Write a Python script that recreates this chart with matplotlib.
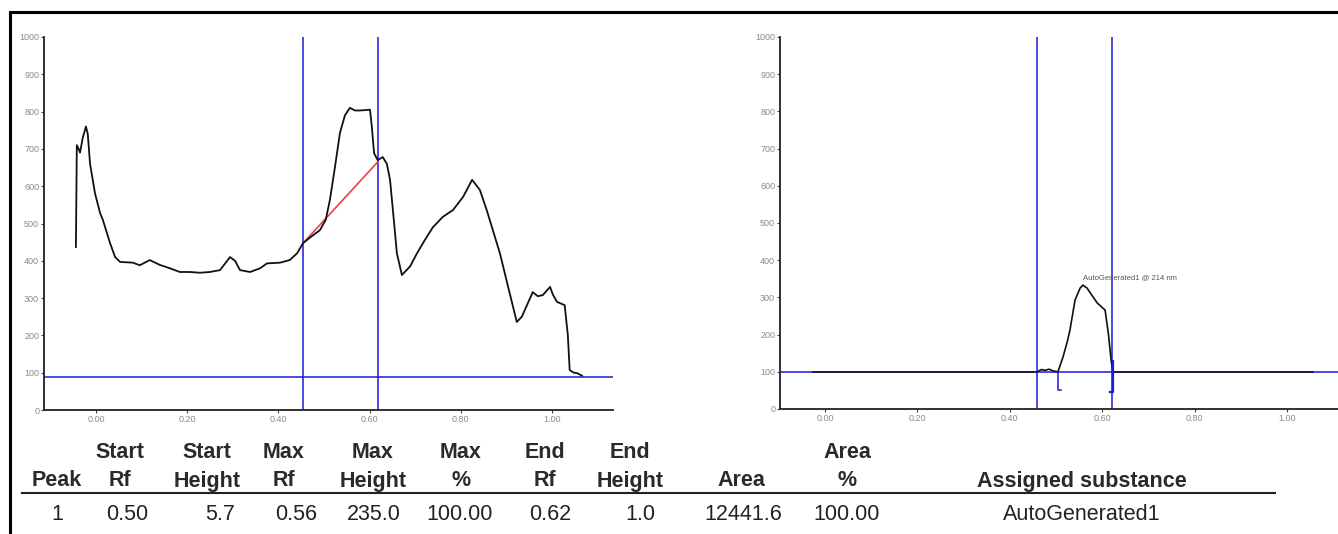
import matplotlib.pyplot as plt
from matplotlib import font_manager
from matplotlib.lines import Line2D

# left densitogram trace (Rf, height)
left_rf = [-0.044, -0.042, -0.038, -0.035, -0.029, -0.022, -0.018, -0.013, -0.002, 0.009,
           0.015, 0.031, 0.042, 0.053, 0.081, 0.096, 0.118, 0.140, 0.162, 0.184,
           0.206, 0.228, 0.250, 0.272, 0.294, 0.305, 0.316, 0.338, 0.360, 0.375,
           0.404, 0.425, 0.441, 0.454, 0.469, 0.491, 0.504, 0.513, 0.524, 0.535,
           0.546, 0.557, 0.568, 0.579, 0.601, 0.605, 0.610, 0.618, 0.629, 0.638,
           0.645, 0.654, 0.660, 0.671, 0.689, 0.704, 0.721, 0.739, 0.761, 0.783,
           0.805, 0.825, 0.842, 0.857, 0.886, 0.904, 0.923, 0.934, 0.958, 0.969,
           0.980, 0.996, 1.002, 1.011, 1.028, 1.035, 1.039, 1.048, 1.055, 1.061, 1.066]
left_h = [437, 710, 700, 690, 730, 760, 740, 660, 580, 528,
          510, 447, 410, 397, 395, 388, 402, 389, 380, 370,
          370, 368, 370, 375, 410, 400, 375, 370, 380, 393,
          395, 402, 420, 447, 462, 482, 510, 563, 650, 742,
          790, 810, 803, 803, 805, 760, 688, 670, 678, 660,
          617, 500, 420, 362, 385, 420, 455, 490, 518, 536,
          571, 617, 590, 536, 420, 330, 236, 250, 316, 305,
          308, 330, 310, 290, 281, 200, 107, 100, 99, 95, 92]
left_marks = [0.454, 0.618]
left_base = 88
left_peak_base_rf = [0.454, 0.618]
left_peak_base_h = [447, 665]

# right (integrated peak) trace
right_rf = [0.459, 0.468, 0.476, 0.485, 0.494, 0.504, 0.515, 0.524, 0.530, 0.541,
            0.552, 0.558, 0.567, 0.574, 0.589, 0.606, 0.613, 0.619, 0.623]
right_h = [100, 106, 104, 107, 102, 100, 140, 180, 212, 293,
           325, 333, 325, 312, 285, 266, 204, 132, 100]
right_marks = [0.459, 0.622]
right_base = 100
peak_label = 'AutoGenerated1 @ 214 nm'

# result table
header_top = ['', 'Start', 'Start', 'Max', 'Max', 'Max', 'End', 'End', '', 'Area', '']
header_bot = ['Peak', 'Rf', 'Height', 'Rf', 'Height', '%', 'Rf', 'Height', 'Area', '%',
              'Assigned substance']
row_1 = ['1', '0.50', '5.7', '0.56', '235.0', '100.00', '0.62', '1.0', '12441.6', '100.00',
         'AutoGenerated1']

W, H = 1338, 534
fig = plt.figure(figsize=(W / 100, H / 100), dpi=100)

names = {f.name for f in font_manager.fontManager.ttflist}
narrow = 'Liberation Sans Narrow' if 'Liberation Sans Narrow' in names else 'Liberation Sans'
plt.rcParams['font.family'] = ['Liberation Sans', 'DejaVu Sans']


def px_ax(x0, x1, y0, y1):
    return fig.add_axes([x0 / W, 1 - y1 / H, (x1 - x0) / W, (y1 - y0) / H])


def style(ax, xlim):
    ax.set_xlim(*xlim)
    ax.set_ylim(0, 1000)
    for s in ['top', 'right']:
        ax.spines[s].set_visible(False)
    for s in ['left', 'bottom']:
        ax.spines[s].set_linewidth(1.3)
        ax.spines[s].set_color('#222222')
    ax.set_yticks(range(0, 1001, 100))
    ax.set_xticks([0, 0.2, 0.4, 0.6, 0.8, 1.0])
    ax.set_xticklabels(['0.00', '0.20', '0.40', '0.60', '0.80', '1.00'])
    ax.tick_params(length=2, width=0.8, pad=1.5, labelsize=6.5, labelcolor='#8a8a8a',
                   color='#444444')


# left plot
ax1 = px_ax(44, 613, 37, 410)
style(ax1, (-0.114, 1.134))
ax1.axhline(left_base, color='#1a1adb', lw=1.1)
for m in left_marks:
    ax1.axvline(m, color='#1a1adb', lw=1.1)
ax1.plot(left_peak_base_rf, left_peak_base_h, color='#f04040', lw=1.2)
ax1.plot(left_rf, left_h, color='#111111', lw=1.3)

# right plot
ax2 = px_ax(780, 1338, 37, 409)
style(ax2, (-0.0974, 1.110))
ax2.axhline(right_base, color='#1a1adb', lw=1.1)
ax2.plot([-0.026, right_marks[0]], [right_base, right_base], color='#111111', lw=1.1)
ax2.plot([right_marks[1], 1.056], [right_base, right_base], color='#111111', lw=1.1)
for m in right_marks:
    ax2.axvline(m, color='#1a1adb', lw=1.1)
ax2.plot(right_rf, right_h, color='#111111', lw=1.2)
# peak start / end brackets
ax2.plot([0.504, 0.504, 0.510], [right_base, 50, 50], color='#1a1adb', lw=1.1)
ax2.plot([0.6225, 0.6225, 0.616], [130, 45, 45], color='#1a1adb', lw=1.6)
ax2.text(right_rf[11], 353, peak_label, fontsize=5.5, color='#555555', ha='left', va='center')

# outer frame
fig.add_artist(Line2D([10 / W, 1], [1 - 12 / H, 1 - 12 / H], color='black', lw=2.2))
fig.add_artist(Line2D([10 / W, 10 / W], [0, 1 - 12 / H], color='black', lw=2.2))

# table
col_x = [57, 120, 207, 284, 373, 461, 545, 630, 741, 847, 1082]
data_x = [57, 127, 220, 296, 374, 460, 550, 640, 743, 847, 1082]
for i, x in enumerate(col_x):
    fig.text(x / W, 1 - 453 / H, header_top[i], ha='center', va='center', fontsize=15.5,
             family=narrow, fontweight='bold', color='#2a2a2a')
    fig.text(x / W, 1 - 481 / H, header_bot[i], ha='center', va='center', fontsize=15.5,
             family=narrow, fontweight='bold', color='#2a2a2a')
    fig.text(data_x[i] / W, 1 - 515 / H, row_1[i], ha='center', va='center', fontsize=15.5,
             family=narrow, color='#222222')
fig.add_artist(Line2D([22 / W, 1275 / W], [1 - 493 / H, 1 - 493 / H], color='#222222', lw=1.5))

fig.savefig('out.png', dpi=100)
